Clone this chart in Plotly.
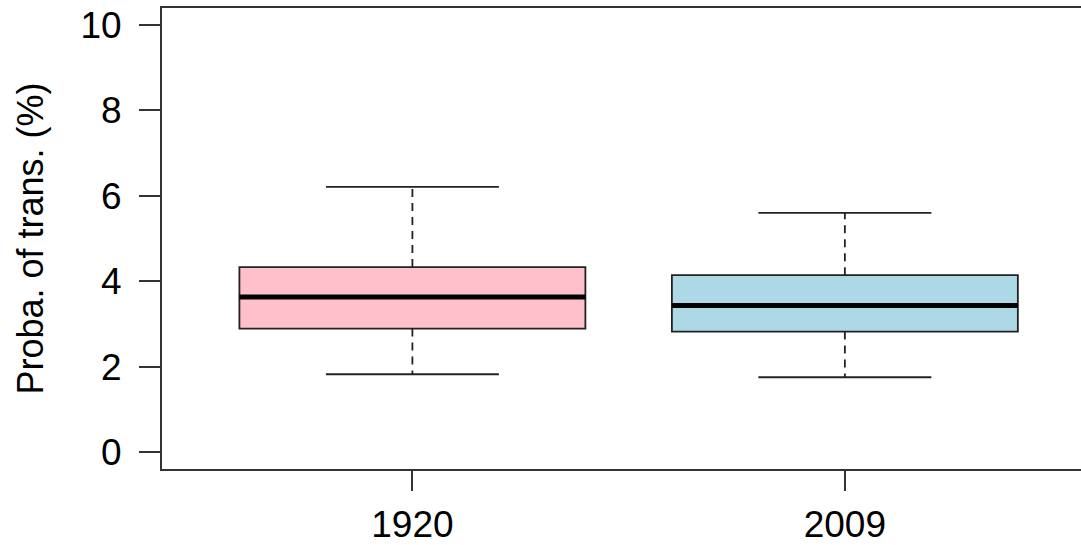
import plotly.graph_objects as go

# Data
groups = ["1920", "2009"]
positions = [1, 2]
lower_whisker = [1.82, 1.75]
q1 = [2.89, 2.82]
median = [3.63, 3.43]
q3 = [4.33, 4.14]
upper_whisker = [6.21, 5.60]
fill_colors = ["#FFC0CB", "#ADD8E6"]

y_ticks = [0, 2, 4, 6, 8, 10]

BOX_W = 0.8
CAP_HALF = 0.2
EDGE = "#222222"
FONT = "Liberation Sans, Arial, sans-serif"

fig = go.Figure()

for i, g in enumerate(groups):
    c = positions[i]
    # whiskers (dashed)
    fig.add_trace(go.Scatter(
        x=[c, c, None, c, c],
        y=[q3[i], upper_whisker[i], None, q1[i], lower_whisker[i]],
        mode="lines", line=dict(color=EDGE, width=1.8, dash="8px,6px"),
        hoverinfo="skip", showlegend=False))
    # caps
    fig.add_trace(go.Scatter(
        x=[c - CAP_HALF, c + CAP_HALF, None, c - CAP_HALF, c + CAP_HALF],
        y=[upper_whisker[i], upper_whisker[i], None, lower_whisker[i], lower_whisker[i]],
        mode="lines", line=dict(color=EDGE, width=1.8),
        hoverinfo="skip", showlegend=False))
    # box
    fig.add_trace(go.Box(
        x=[c], q1=[q1[i]], median=[median[i]], q3=[q3[i]],
        lowerfence=[q1[i]], upperfence=[q3[i]],
        width=BOX_W, fillcolor=fill_colors[i],
        line=dict(color=EDGE, width=1.8),
        whiskerwidth=0, boxpoints=False,
        hoverinfo="skip", showlegend=False, name=g))
    # thick median
    fig.add_trace(go.Scatter(
        x=[c - BOX_W / 2, c + BOX_W / 2], y=[median[i], median[i]],
        mode="lines", line=dict(color="black", width=5),
        hoverinfo="skip", showlegend=False))

fig.update_layout(
    width=1081, height=545,
    margin=dict(l=162, r=0, t=8, b=74),
    paper_bgcolor="white", plot_bgcolor="white",
    font=dict(family=FONT, size=37, color="black"),
    hovermode=False,
    xaxis=dict(
        range=[0.421, 2.546],
        tickmode="array", tickvals=positions, ticktext=groups,
        showgrid=False, zeroline=False,
        showline=True, mirror=True, linecolor="#333333", linewidth=2,
        ticks="outside", ticklen=20, tickwidth=1.8, tickcolor="#333333",
        ticklabelstandoff=2,
        tickfont=dict(size=37, family=FONT, color="black"),
        fixedrange=True,
    ),
    yaxis=dict(
        range=[-0.4, 10.4],
        tickmode="array", tickvals=y_ticks,
        showgrid=False, zeroline=False,
        showline=True, linecolor="#333333", linewidth=2,
        ticks="outside", ticklen=21, tickwidth=1.8, tickcolor="#333333",
        ticklabelstandoff=10,
        tickfont=dict(size=37, family=FONT, color="black"),
        title=dict(text="Proba. of trans. (%)", standoff=26,
                   font=dict(size=36, family=FONT, color="black")),
        fixedrange=True,
    ),
)

fig.write_html("out.html")
